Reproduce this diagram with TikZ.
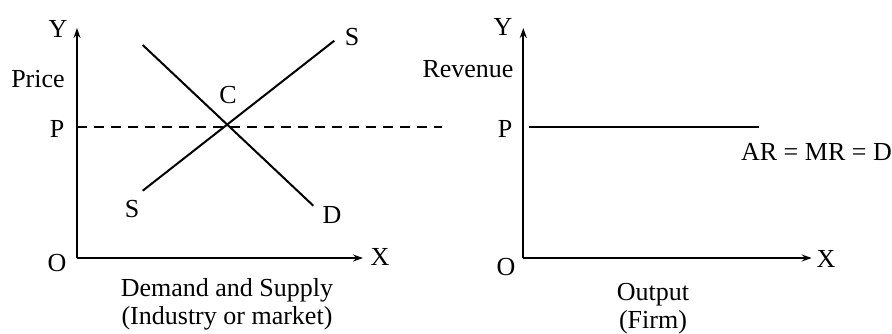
\documentclass[tikz,border=0pt]{standalone}
\usepackage{fontspec}
\setmainfont{Liberation Serif}
\usetikzlibrary{arrows.meta}
\begin{document}
\begin{tikzpicture}[x=1pt,y=-1pt,
  lbl/.style={anchor=base,inner sep=0pt,font=\fontsize{26}{30}\selectfont},
  axis/.style={line width=2pt,-{Stealth[length=10pt,width=7pt]}},
  curve/.style={line width=2pt}]
\useasboundingbox (0,0) rectangle (892,333);
% left chart
\coordinate (O1) at (77,258);
\coordinate (Y1) at (77,28);
\coordinate (X1) at (363,258);
\draw[axis] (O1) -- (Y1);
\draw[axis] (O1) -- (X1);
\coordinate (Dtop) at (142.7,45);
\coordinate (Dbot) at (313.3,205.7);
\coordinate (Sbot) at (142.7,190.7);
\coordinate (Stop) at (334.3,40.7);
\draw[curve] (Dtop) -- (Dbot);
\draw[curve] (Sbot) -- (Stop);
\coordinate (Pl) at (77,126.7);
\coordinate (Pr) at (441.7,126.7);
\draw[line width=1.6pt,dash pattern=on 10pt off 7pt] (Pl) -- (Pr);
\node[lbl] (ly) at (58,37) {Y};
\node[lbl] (lprice) at (38,87) {Price};
\node[lbl] (lp) at (57,137) {P};
\node[lbl] (lc) at (228,103) {C};
\node[lbl] (ls1) at (352,45) {S};
\node[lbl] (ls2) at (132,217) {S};
\node[lbl] (ld) at (332,223) {D};
\node[lbl] (lo) at (57,271) {O};
\node[lbl] (lx) at (380,265) {X};
\node[lbl] (ldemand) at (227,296) {Demand and Supply};
\node[lbl] (lindustry) at (227,324) {(Industry or market)};
% right chart
\coordinate (O2) at (523.3,258);
\coordinate (Y2) at (523.3,28);
\coordinate (X2) at (811.7,258);
\draw[axis] (O2) -- (Y2);
\draw[axis] (O2) -- (X2);
\coordinate (Ar) at (529.3,126.7);
\coordinate (Br) at (759,126.7);
\draw[curve] (Ar) -- (Br);
\node[lbl] (ry) at (503,35) {Y};
\node[lbl] (rrev) at (468,77) {Revenue};
\node[lbl] (rp) at (505,137) {P};
\node[lbl,anchor=base east] (rar) at (892,160) {AR = MR = D};
\node[lbl] (ro) at (506,275) {O};
\node[lbl] (rx) at (826,267) {X};
\node[lbl] (rout) at (653,300) {Output};
\node[lbl] (rfirm) at (653,328) {(Firm)};
\end{tikzpicture}
\end{document}
